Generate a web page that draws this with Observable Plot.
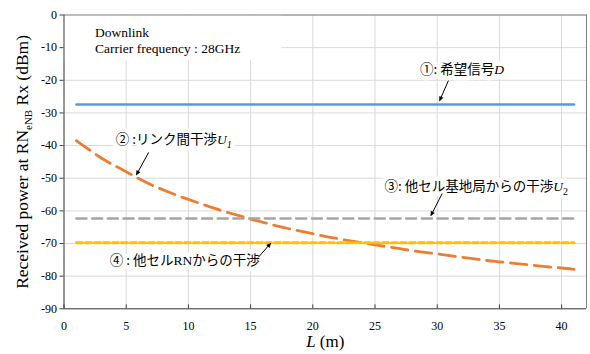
<!DOCTYPE html>
<html><head><meta charset="utf-8">
<script src="https://cdn.jsdelivr.net/npm/d3@7"></script>
<script src="https://cdn.jsdelivr.net/npm/@observablehq/plot@0.6"></script>
<style>
html,body{margin:0;padding:0;background:#fff;}
#chart{width:590px;height:354px;}
</style></head><body><div id="chart"></div>
<script>
// ---- data ----
const distance = [1,2,3,4,5,6,7,8,9,10,11,12,13,14,15,16,17,18,19,20,21,22,23,24,25,26,27,28,29,30,31,32,33,34,35,36,37,38,39,40,41];
const linkInterference = [-38.5,-41.2,-43.8,-46.0,-48.0,-50.1,-52.0,-53.6,-55.1,-56.5,-57.8,-59.1,-60.3,-61.4,-62.5,-63.5,-64.5,-65.4,-66.2,-67.0,-67.8,-68.5,-69.2,-69.8,-70.4,-71.0,-71.6,-72.2,-72.7,-73.2,-73.7,-74.2,-74.7,-75.2,-75.6,-76.0,-76.4,-76.8,-77.2,-77.5,-77.9];
const flatDistance = [1, 41];
const desiredSignal = [-27.4, -27.4];
const otherCellBS = [-62.3, -62.3];
const otherCellRN = [-69.8, -69.8];
const xTicks = [0,5,10,15,20,25,30,35,40];
const yTicks = [0,-10,-20,-30,-40,-50,-60,-70,-80,-90];
const xDomain = [0, 42];
const yDomain = [-90, 0];

// annotation texts (positions in data units)
const notes = [
  {label: "Downlink", x: 2.5, y: -5.3},
  {label: "Carrier frequency : 28GHz", x: 2.5, y: -10.2}
];
const noteBox = [{x1: 0, x2: 17.5, y1: -13.9, y2: 0}];
const callouts = [
  {label: "①: 希望信号D", x: 32.0, y: -16.9},
  {label: "② :リンク間干渉U1", x: 8.83, y: -38.3},
  {label: "③: 他セル基地局からの干渉U2", x: 33.14, y: -52.5},
  {label: "④ : 他セルRNからの干渉", x: 9.7, y: -75.2}
];
const arrows = [
  {x1: 30.9, y1: -20.1, x2: 30.2, y2: -26.2},
  {x1: 6.8, y1: -42.1, x2: 5.83, y2: -48.9},
  {x1: 30.4, y1: -54.7, x2: 29.5, y2: -61.4},
  {x1: 15.6, y1: -74.3, x2: 16.6, y2: -70.0}
];

const serif = "'Liberation Serif','Times New Roman',serif";
const jp = "'Noto Sans CJK JP','Noto Sans',sans-serif";

const rows = (xs, ys) => xs.map((x, i) => ({L: x, P: ys[i]}));
const U1 = rows(distance, linkInterference);
const D = rows(flatDistance, desiredSignal);
const U2 = rows(flatDistance, otherCellBS);
const RN = rows(flatDistance, otherCellRN);

const chart = Plot.plot({
  width: 590, height: 354,
  marginLeft: 63.5, marginRight: 4, marginTop: 14.5, marginBottom: 45.7,
  style: `font-family: ${serif}; font-size: 12px; color: #000; background: #fff; overflow: visible;`,
  x: {domain: xDomain, label: null},
  y: {domain: yDomain, label: null},
  marks: [
    Plot.gridX(xTicks, {stroke: "#d9d9d9", strokeOpacity: 1}),
    Plot.gridY(yTicks, {stroke: "#d9d9d9", strokeOpacity: 1}),
    Plot.rect(noteBox, {x1: "x1", x2: "x2", y1: "y1", y2: "y2", fill: "#fff"}),
    Plot.ruleY([yDomain[1]], {stroke: "#7f7f7f"}),
    Plot.ruleX([xDomain[1]], {stroke: "#7f7f7f"}),
    Plot.ruleY([yDomain[0]], {stroke: "#404040"}),
    Plot.ruleX([xDomain[0]], {stroke: "#404040"}),
    Plot.ruleX(xTicks, {y1: -90, y2: -88.8, stroke: "#404040"}),
    Plot.axisY(yTicks, {tickSize: 4, tickPadding: 3, stroke: "#404040", fontSize: 12, fontFamily: serif, tickFormat: d => String(d), label: null}),
    Plot.axisX(xTicks, {tickSize: 0, tickPadding: 13, fontSize: 12, fontFamily: serif, tickFormat: d => String(d), label: null}),
    Plot.line(D, {x: "L", y: "P", stroke: "#5B9BD5", strokeWidth: 2.6}),
    Plot.line(U1, {x: "L", y: "P", stroke: "#ED7D31", strokeWidth: 2.8, strokeDasharray: "16.5,7.5", curve: "monotone-x"}),
    Plot.line(U2, {x: "L", y: "P", stroke: "#A5A5A5", strokeWidth: 2.5, strokeDasharray: "10,5.7"}),
    Plot.line(RN, {x: "L", y: "P", stroke: "#FFC000", strokeWidth: 3, strokeDasharray: "6,3"}),
    Plot.text(notes, {x: "x", y: "y", text: "label", textAnchor: "start", fontSize: 13.5, fontFamily: serif}),
    // white halo layer behind the callout labels, then the labels themselves
    Plot.text(callouts, {x: "x", y: "y", text: "label", fontSize: 13.5, fontFamily: jp, stroke: "#fff", fill: "#fff", strokeWidth: 9, strokeLinejoin: "round"}),
    Plot.text(callouts, {x: "x", y: "y", text: "label", fontSize: 13.5, fontFamily: jp, fill: "#000"}),
    Plot.link(arrows, {x1: "x1", y1: "y1", x2: "x2", y2: "y2", stroke: "#000", strokeWidth: 1, markerEnd: "arrow"}),
    Plot.text(["Received power at RNeNB Rx (dBm)"], {frameAnchor: "left", textAnchor: "middle", lineAnchor: "middle", rotate: -90, dx: -42, fontSize: 17.5, fontFamily: serif}),
    Plot.text(["L (m)"], {frameAnchor: "bottom", textAnchor: "middle", lineAnchor: "middle", dy: 33, fontSize: 17, fontFamily: serif})
  ]
});

// filled arrowheads like the reference callouts
d3.select(chart).selectAll("marker")
  .attr("fill", "#000").attr("stroke", "none").style("overflow", "visible")
  .selectAll("path").attr("d", "M-6,-3.3L1.5,0L-6,3.3Z");

// rich text (italics / subscripts) applied to the rendered labels
const rich = new Map([
  ["①: 希望信号D", [{t: "①: 希望信号"}, {t: "D", i: true, serif: true}]],
  ["② :リンク間干渉U1", [{t: "② :リンク間干渉"}, {t: "U", i: true, serif: true}, {t: "1", i: true, serif: true, sub: 4, size: 10}]],
  ["③: 他セル基地局からの干渉U2", [{t: "③: 他セル基地局からの干渉"}, {t: "U", i: true, serif: true}, {t: "2", serif: true, sub: 4, size: 10}]],
  ["④ : 他セルRNからの干渉", [{t: "④ : 他セル"}, {t: "RN", serif: true}, {t: "からの干渉"}]],
  ["Received power at RNeNB Rx (dBm)", [{t: "Received power at RN"}, {t: "eNB", sub: 4, size: 11}, {t: " Rx (dBm)", sub: -4}]],
  ["L (m)", [{t: "L", i: true}, {t: " (m)"}]]
]);
const ns = "http://www.w3.org/2000/svg";
d3.select(chart).selectAll("text").each(function() {
  const parts = rich.get(this.textContent);
  if (!parts) return;
  while (this.firstChild) this.removeChild(this.firstChild);
  for (const p of parts) {
    const ts = document.createElementNS(ns, "tspan");
    ts.textContent = p.t;
    if (p.i) ts.setAttribute("font-style", "italic");
    if (p.serif) ts.setAttribute("font-family", serif);
    if (p.size) ts.setAttribute("font-size", p.size);
    if (p.sub) ts.setAttribute("dy", p.sub);
    this.appendChild(ts);
  }
});
document.getElementById("chart").appendChild(chart);
</script>
</body></html>
